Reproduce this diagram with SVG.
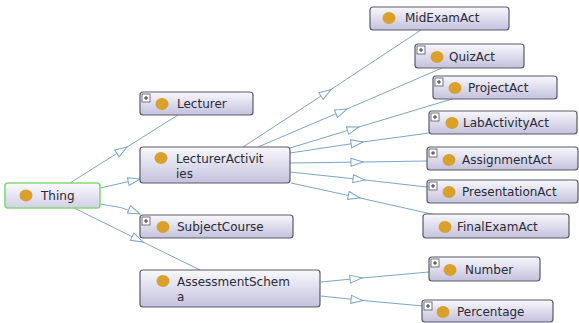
<svg xmlns="http://www.w3.org/2000/svg" width="579" height="323" viewBox="0 0 579 323">
  <style>
    .box { fill: url(#nodeFill); stroke: #5a5a68; stroke-width: 1.2; }
    .root { fill: url(#rootFill); stroke: #86d97a; stroke-width: 1.6; }
    .dot { fill: #d9a12b; }
    .lbl { font-family: "DejaVu Sans", "Liberation Sans", sans-serif; font-size: 12px; fill: #2a2a38; }
    .plus rect { fill: #ffffff; stroke: #555560; stroke-width: 0.8; }
    .plus path { stroke: #333340; stroke-width: 1; fill: none; }
    .edge { fill: none; stroke: #7aa6c8; stroke-width: 1; }
    .mid { marker-mid: url(#tri); }
    .end { marker-end: url(#tri); }
  </style>
  <defs>
    <linearGradient id="nodeFill" x1="0" y1="0" x2="0" y2="1">
      <stop offset="0" stop-color="#f8f8fd"/>
      <stop offset="1" stop-color="#c4c1dc"/>
    </linearGradient>
    <linearGradient id="rootFill" x1="0" y1="0" x2="0" y2="1">
      <stop offset="0" stop-color="#fafafd"/>
      <stop offset="1" stop-color="#d2d0e6"/>
    </linearGradient>
    <marker id="tri" viewBox="-1 -1 14 10" refX="12" refY="4" markerWidth="14" markerHeight="10" markerUnits="userSpaceOnUse" orient="auto" overflow="visible">
      <path d="M0,0 L12,4 L0,8 Z" fill="#ffffff" stroke="#7aa6c8" stroke-width="1"/>
    </marker>
    <g id="plusIcon" class="plus">
      <rect x="0" y="0" width="8" height="8"/>
      <path d="M2,4 H6 M4,2 V6"/>
    </g>
  </defs>

  <rect width="579" height="323" fill="#ffffff"/>

  <!-- subclass connectors -->
  <g id="connectors">
    <polyline class="edge mid" points="70,183 127,147 178,115"/>
    <polyline class="edge end" points="100,188 140,179"/>
    <path class="edge end" d="M100,204 Q121,206 140,214"/>
    <polyline class="edge mid" points="72,207 143,242 200,270"/>

    <polyline class="edge mid" points="243,147 331,89.5 421,30"/>
    <polyline class="edge mid" points="258,147 347,109 442,68"/>
    <polyline class="edge mid" points="290,148 359,127 452,99"/>
    <polyline class="edge mid" points="290,153 363,142 429,133"/>
    <polyline class="edge mid" points="290,163 363,162 427,161"/>
    <polyline class="edge mid" points="290,172 365,180 427,187"/>
    <polyline class="edge mid" points="291,183 360,198 436,215"/>

    <polyline class="edge mid" points="321,282 362,278 429,272"/>
    <polyline class="edge mid" points="321,296 363,300.5 423,306"/>
  </g>

  <g id="thing">
    <rect class="root" x="5" y="183" width="95" height="25" rx="3"/>
    <ellipse class="dot" cx="26" cy="195.5" rx="6.5" ry="6"/>
    <text class="lbl" x="41" y="200">Thing</text>
  </g>

  <g id="lecturer">
    <rect class="box" x="140" y="92" width="113" height="23" rx="3"/>
    <use href="#plusIcon" x="142" y="94"/>
    <ellipse class="dot" cx="162" cy="104" rx="6.5" ry="6"/>
    <text class="lbl" x="177" y="108">Lecturer</text>
  </g>

  <g id="lecturerActivities">
    <rect class="box" x="140" y="147" width="150" height="36" rx="3"/>
    <ellipse class="dot" cx="161" cy="158" rx="6.5" ry="6"/>
    <text class="lbl" x="176" y="163">LecturerActivit</text>
    <text class="lbl" x="176" y="178">ies</text>
  </g>

  <g id="subjectCourse">
    <rect class="box" x="140" y="215" width="153" height="23" rx="3"/>
    <use href="#plusIcon" x="142" y="217"/>
    <ellipse class="dot" cx="163" cy="227" rx="6.5" ry="6"/>
    <text class="lbl" x="177" y="231">SubjectCourse</text>
  </g>

  <g id="assessmentSchema">
    <rect class="box" x="140" y="270" width="180" height="37" rx="3"/>
    <ellipse class="dot" cx="163" cy="281" rx="6.5" ry="6"/>
    <text class="lbl" x="177" y="286">AssessmentSchem</text>
    <text class="lbl" x="177" y="301">a</text>
  </g>

  <g id="midExamAct">
    <rect class="box" x="370" y="7" width="139" height="23" rx="3"/>
    <ellipse class="dot" cx="389" cy="18" rx="6.5" ry="6"/>
    <text class="lbl" x="405" y="22">MidExamAct</text>
  </g>

  <g id="quizAct">
    <rect class="box" x="415" y="44" width="109" height="24" rx="3"/>
    <use href="#plusIcon" x="417" y="46"/>
    <ellipse class="dot" cx="437" cy="57" rx="6.5" ry="6"/>
    <text class="lbl" x="449" y="61">QuizAct</text>
  </g>

  <g id="projectAct">
    <rect class="box" x="433" y="76" width="124" height="23" rx="3"/>
    <use href="#plusIcon" x="435" y="78"/>
    <ellipse class="dot" cx="455" cy="88" rx="6.5" ry="6"/>
    <text class="lbl" x="468" y="92">ProjectAct</text>
  </g>

  <g id="labActivityAct">
    <rect class="box" x="429" y="111" width="148" height="23" rx="3"/>
    <use href="#plusIcon" x="431" y="113"/>
    <ellipse class="dot" cx="452" cy="123" rx="6.5" ry="6"/>
    <text class="lbl" x="463" y="127">LabActivityAct</text>
  </g>

  <g id="assignmentAct">
    <rect class="box" x="427" y="147" width="151" height="23" rx="3"/>
    <use href="#plusIcon" x="429" y="149"/>
    <ellipse class="dot" cx="449" cy="160" rx="6.5" ry="6"/>
    <text class="lbl" x="462" y="164">AssignmentAct</text>
  </g>

  <g id="presentationAct">
    <rect class="box" x="427" y="180" width="151" height="23" rx="3"/>
    <use href="#plusIcon" x="429" y="182"/>
    <ellipse class="dot" cx="449" cy="192" rx="6.5" ry="6"/>
    <text class="lbl" x="462" y="196">PresentationAct</text>
  </g>

  <g id="finalExamAct">
    <rect class="box" x="423" y="214" width="146" height="24" rx="3"/>
    <ellipse class="dot" cx="445" cy="227" rx="6.5" ry="6"/>
    <text class="lbl" x="457" y="231">FinalExamAct</text>
  </g>

  <g id="number">
    <rect class="box" x="429" y="257" width="111" height="24" rx="3"/>
    <use href="#plusIcon" x="431" y="259"/>
    <ellipse class="dot" cx="450" cy="270" rx="6.5" ry="6"/>
    <text class="lbl" x="465" y="274">Number</text>
  </g>

  <g id="percentage">
    <rect class="box" x="422" y="300" width="131" height="22" rx="3"/>
    <use href="#plusIcon" x="424" y="302"/>
    <ellipse class="dot" cx="443" cy="312" rx="6.5" ry="6"/>
    <text class="lbl" x="457" y="316">Percentage</text>
  </g>
</svg>
